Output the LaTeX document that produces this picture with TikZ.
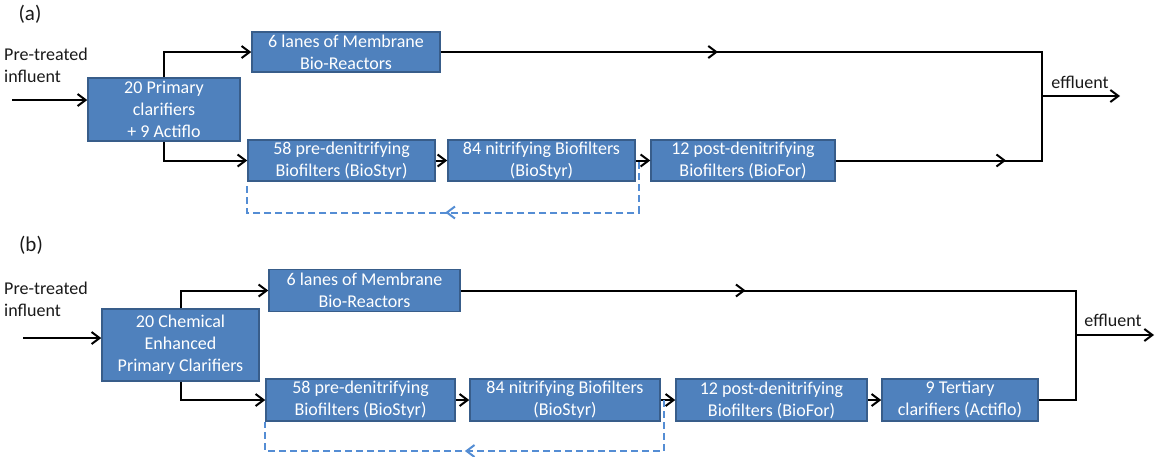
\documentclass[tikz,border=0pt]{standalone}
\usepackage{fontspec}
\setmainfont{Carlito}
\usetikzlibrary{arrows.meta,decorations.markings,calc}

\definecolor{boxfill}{RGB}{79,129,189}
\definecolor{boxedge}{RGB}{56,93,138}
\definecolor{recyc}{RGB}{84,141,212}
\definecolor{ink}{RGB}{25,25,25}

\tikzset{
  unitbox/.style={draw=boxedge, fill=boxfill, text=white, line width=1.5pt,
    font=\fontsize{18}{22}\selectfont, align=center, inner sep=0pt},
  plain/.style={font=\fontsize{18}{22}\selectfont, text=ink, inner sep=0pt},
  panel/.style={font=\fontsize{21}{24}\selectfont, text=ink, inner sep=0pt},
  pipe/.style={line width=2pt, draw=black},
  flow/.style={pipe, -{Straight Barb[length=8pt,width=12pt]}},
  midarrow/.style={postaction={decorate}, decoration={markings,
    mark=at position #1 with {\arrow{Straight Barb[length=8pt,width=12pt]}}}},
  recycle/.style={line width=2pt, draw=recyc, dash pattern=on 7pt off 4pt}
}

\begin{document}
\begin{tikzpicture}[x=1pt,y=-1pt]
\useasboundingbox (0,0) rectangle (1156,456);

% ---------------- (a) current layout ----------------
\node[panel] (lbla) at (30,14) {(a)};
\node[plain, align=left, anchor=west] (infa) at (4,65) {Pre-treated\\influent};

\node[unitbox, minimum width=152pt, minimum height=63pt] (Pa) at (164,109.5)
  {20 Primary\\clarifiers\\+ 9 Actiflo};
\node[unitbox, minimum width=188pt, minimum height=40pt] (MBRa) at (346,52)
  {6 lanes of Membrane\\Bio-Reactors};
\node[unitbox, minimum width=187pt, minimum height=41pt] (B58a) at (341.5,160.5)
  {58 pre-denitrifying\\Biofilters (BioStyr)};
\node[unitbox, minimum width=187pt, minimum height=41pt] (B84a) at (541.5,160.5)
  {84 nitrifying Biofilters\\(BioStyr)};
\node[unitbox, minimum width=184pt, minimum height=41pt] (B12a) at (743,160.5)
  {12 post-denitrifying\\Biofilters (BioFor)};

\coordinate (ina) at (12,100);
\coordinate (jta) at (1042,52);
\coordinate (jba) at (1042,160.5);
\coordinate (jma) at (1042,96);
\coordinate (outa) at (1120,96);
\coordinate (ra) at ($(B84a.east)+(3,1.5)$);

\draw[flow] (ina) -- (ina -| Pa.west);
\draw[flow] (Pa.north) |- (MBRa.west);
\draw[flow] (Pa.south) |- (B58a.west);
\draw[flow] (B58a) -- (B84a);
\draw[flow] (B84a) -- (B12a);
\draw[pipe, midarrow=0.461] (MBRa.east) -- (jta);
\draw[pipe, midarrow=0.826] (B12a.east) -- (jba);
\draw[pipe, line cap=rect] (jta) -- (jba);
\draw[flow] (jma) -- (outa);
\node[plain] (effa) at (1080,82) {effluent};

\draw[recycle, midarrow=0.516] (ra) -- ++(0,50.5) -| (B58a.south west);

% ---------------- (b) upgraded layout ----------------
\node[panel] (lblb) at (31,245) {(b)};
\node[plain, align=left, anchor=west] (infb) at (4,299) {Pre-treated\\influent};

\node[unitbox, minimum width=157pt, minimum height=72pt] (Cb) at (180.5,345)
  {20 Chemical\\Enhanced\\Primary Clarifiers};
\node[unitbox, minimum width=191pt, minimum height=42pt] (MBRb) at (364.5,290.5)
  {6 lanes of Membrane\\Bio-Reactors};
\node[unitbox, minimum width=189pt, minimum height=42pt] (B58b) at (360.5,400)
  {58 pre-denitrifying\\Biofilters (BioStyr)};
\node[unitbox, minimum width=190pt, minimum height=42pt] (B84b) at (565,400)
  {84 nitrifying Biofilters\\(BioStyr)};
\node[unitbox, minimum width=191pt, minimum height=42pt] (B12b) at (771.5,400)
  {12 post-denitrifying\\Biofilters (BioFor)};
\node[unitbox, minimum width=156pt, minimum height=42pt] (B9b) at (960,400)
  {9 Tertiary\\clarifiers (Actiflo)};

\coordinate (inb) at (23,338);
\coordinate (jtb) at (1076,290.5);
\coordinate (jbb) at (1076,400);
\coordinate (jmb) at (1076,335);
\coordinate (outb) at (1154,335);
\coordinate (rb) at ($(B84b.east)+(3,0)$);

\draw[flow] (inb) -- (inb -| Cb.west);
\draw[flow] (Cb.north) |- (MBRb.west);
\draw[flow] (Cb.south) |- (B58b.west);
\draw[flow] (B58b) -- (B84b);
\draw[flow] (B84b) -- (B12b);
\draw[flow] (B12b) -- (B9b);
\draw[pipe, midarrow=0.463] (MBRb.east) -- (jtb);
\draw[pipe] (B9b.east) -- (jbb);
\draw[pipe, line cap=rect] (jtb) -- (jbb);
\draw[flow] (jmb) -- (outb);
\node[plain] (effb) at (1113,320) {effluent};

\draw[recycle, midarrow=0.522] (rb) -- ++(0,51) -| (B58b.south west);

\end{tikzpicture}
\end{document}
